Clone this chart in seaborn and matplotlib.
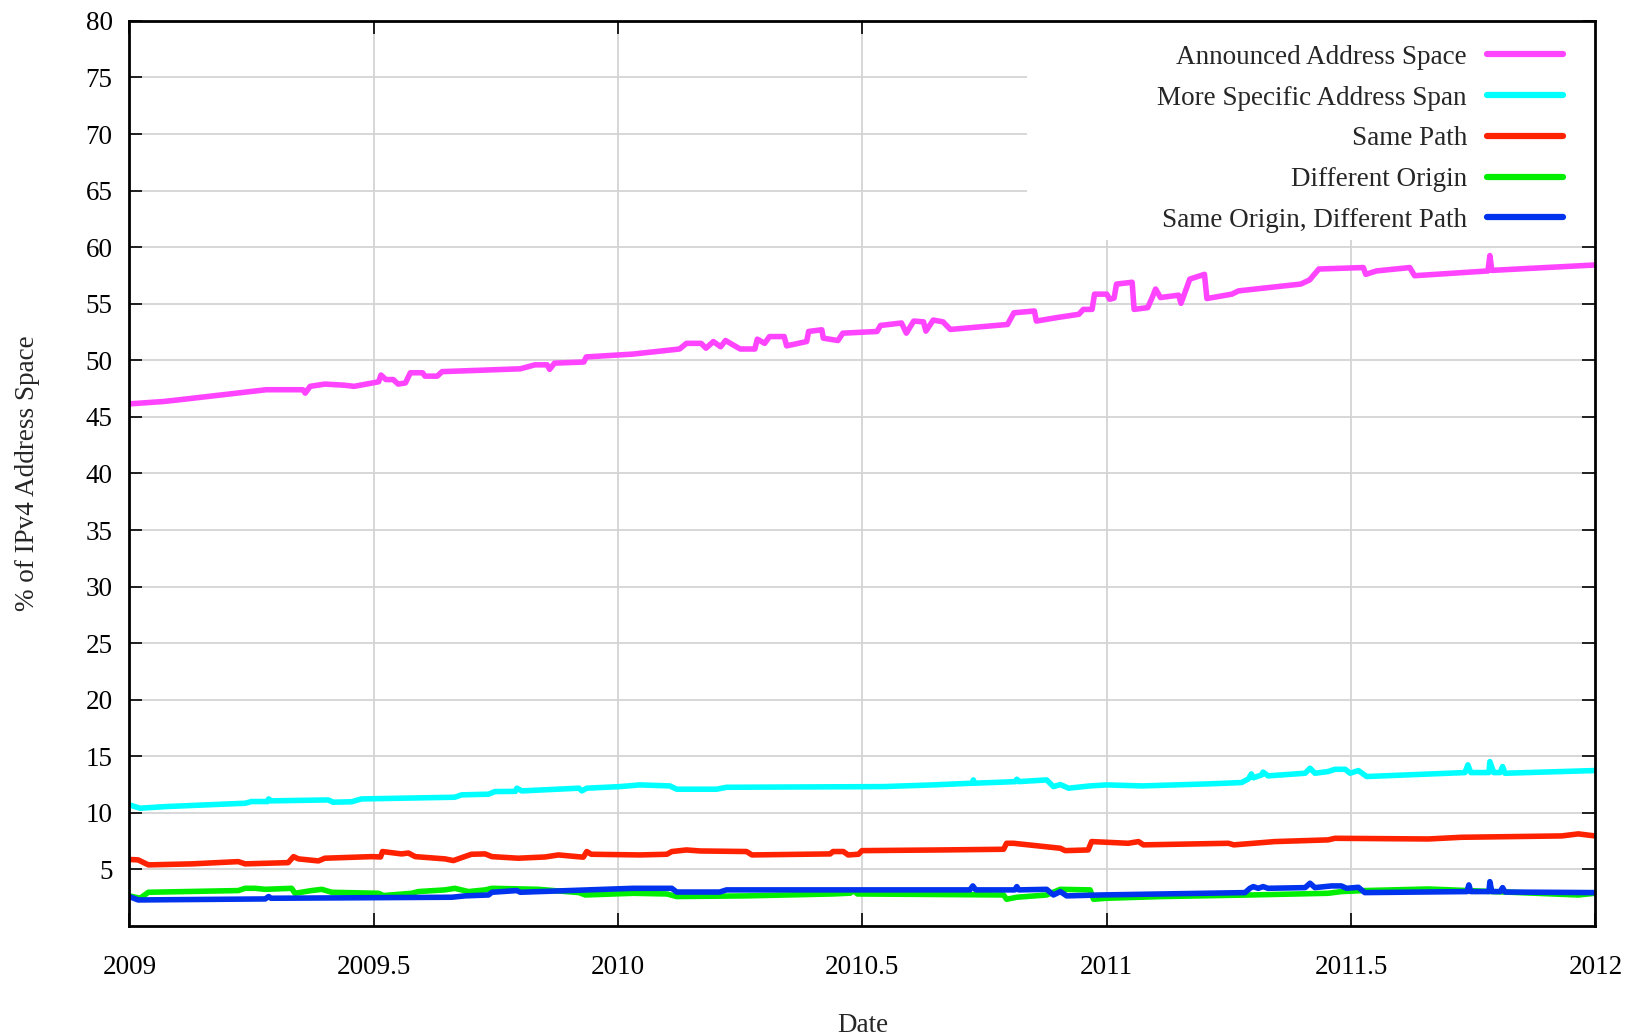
import numpy as np
import pandas as pd
import matplotlib
matplotlib.use("Agg")
import matplotlib.pyplot as plt
from matplotlib.patches import Rectangle
import seaborn as sns

# ----------------------------------
# Data (year, % of IPv4 space)
# ----------------------------------
announced_x = [
    2009.000, 2009.07, 2009.10, 2009.28, 2009.355, 2009.36, 2009.37, 2009.40, 2009.44, 2009.46,
    2009.51, 2009.515, 2009.525, 2009.54, 2009.55, 2009.565, 2009.575, 2009.60, 2009.605, 2009.63,
    2009.64, 2009.80, 2009.83, 2009.855, 2009.86, 2009.87, 2009.93, 2009.935, 2010.03, 2010.126,
    2010.14, 2010.17, 2010.18, 2010.195, 2010.21, 2010.22, 2010.235, 2010.25, 2010.28, 2010.285,
    2010.30, 2010.31, 2010.34, 2010.345, 2010.386, 2010.39, 2010.417, 2010.42, 2010.45, 2010.46,
    2010.53, 2010.537, 2010.58, 2010.59, 2010.605, 2010.625, 2010.63, 2010.645, 2010.665, 2010.68,
    2010.797, 2010.81, 2010.852, 2010.856, 2010.897, 2010.943, 2010.952, 2010.97, 2010.975, 2011.0,
    2011.006, 2011.015, 2011.02, 2011.052, 2011.056, 2011.084, 2011.093, 2011.10, 2011.11, 2011.147,
    2011.152, 2011.17, 2011.20, 2011.205, 2011.256, 2011.27, 2011.397, 2011.415, 2011.434, 2011.525,
    2011.53, 2011.552, 2011.62, 2011.63, 2011.78, 2011.784, 2011.788, 2012.0,
]
announced_y = [
    46.15, 46.36, 46.5, 47.4, 47.4, 47.1, 47.7, 47.9, 47.8, 47.7,
    48.1, 48.7, 48.3, 48.3, 47.9, 48.0, 48.9, 48.9, 48.6, 48.6,
    49.0, 49.25, 49.6, 49.6, 49.2, 49.75, 49.85, 50.3, 50.55, 51.0,
    51.5, 51.5, 51.07, 51.66, 51.2, 51.75, 51.37, 51.0, 51.0, 51.87,
    51.5, 52.1, 52.1, 51.28, 51.66, 52.55, 52.7, 51.96, 51.75, 52.4,
    52.55, 53.08, 53.3, 52.4, 53.47, 53.4, 52.58, 53.56, 53.4, 52.73,
    53.17, 54.2, 54.36, 53.47, 53.77, 54.07, 54.5, 54.5, 55.85, 55.85,
    55.4, 55.5, 56.74, 56.9, 54.5, 54.66, 55.55, 56.3, 55.55, 55.76,
    55.04, 57.18, 57.6, 55.46, 55.85, 56.14, 56.74, 57.1, 58.07, 58.2,
    57.6, 57.9, 58.2, 57.48, 57.9, 59.26, 57.95, 58.43,
]

specific_x = [
    2009.0, 2009.022, 2009.073, 2009.237, 2009.25, 2009.283, 2009.285, 2009.29, 2009.407, 2009.417,
    2009.455, 2009.475, 2009.666, 2009.68, 2009.735, 2009.748, 2009.79, 2009.793, 2009.803, 2009.92,
    2009.926, 2009.936, 2010.004, 2010.045, 2010.106, 2010.12, 2010.202, 2010.222, 2010.543, 2010.645,
    2010.725, 2010.727, 2010.73, 2010.814, 2010.816, 2010.82, 2010.877, 2010.891, 2010.905, 2010.922,
    2010.966, 2011.0, 2011.072, 2011.208, 2011.276, 2011.29, 2011.296, 2011.30, 2011.317, 2011.32,
    2011.33, 2011.406, 2011.416, 2011.426, 2011.453, 2011.467, 2011.488, 2011.498, 2011.515, 2011.532,
    2011.733, 2011.739, 2011.745, 2011.782, 2011.784, 2011.792, 2011.805, 2011.81, 2011.815, 2011.999,
]
specific_y = [
    10.7, 10.41, 10.55, 10.85, 11.0, 11.0, 11.23, 11.06, 11.14, 10.94,
    10.98, 11.23, 11.38, 11.59, 11.65, 11.88, 11.9, 12.18, 11.94, 12.18,
    11.94, 12.18, 12.32, 12.47, 12.38, 12.09, 12.09, 12.26, 12.32, 12.47,
    12.62, 12.91, 12.62, 12.76, 12.97, 12.76, 12.91, 12.32, 12.5, 12.18,
    12.38, 12.47, 12.38, 12.56, 12.68, 13.0, 13.44, 13.1, 13.35, 13.6,
    13.27, 13.5, 13.94, 13.5, 13.65, 13.85, 13.85, 13.5, 13.74, 13.21,
    13.56, 14.24, 13.56, 13.56, 14.53, 13.56, 13.56, 14.09, 13.5, 13.74,
]

same_path_x = [
    2009.0, 2009.018, 2009.039, 2009.128, 2009.223, 2009.237, 2009.325, 2009.336, 2009.346, 2009.387,
    2009.40, 2009.496, 2009.514, 2009.518, 2009.557, 2009.571, 2009.585, 2009.646, 2009.663, 2009.70,
    2009.728, 2009.742, 2009.796, 2009.851, 2009.878, 2009.929, 2009.936, 2009.945, 2010.045, 2010.10,
    2010.11, 2010.14, 2010.168, 2010.263, 2010.274, 2010.434, 2010.44, 2010.461, 2010.471, 2010.492,
    2010.499, 2010.659, 2010.789, 2010.795, 2010.809, 2010.905, 2010.915, 2010.962, 2010.969, 2011.044,
    2011.065, 2011.075, 2011.249, 2011.26, 2011.344, 2011.453, 2011.467, 2011.658, 2011.726, 2011.931,
    2011.965, 2011.999,
]
same_path_y = [
    5.88, 5.84, 5.4, 5.49, 5.69, 5.49, 5.6, 6.13, 5.93, 5.75,
    5.99, 6.13, 6.1, 6.58, 6.37, 6.45, 6.13, 5.93, 5.78, 6.34,
    6.37, 6.13, 5.99, 6.1, 6.28, 6.08, 6.58, 6.34, 6.28, 6.34,
    6.58, 6.72, 6.63, 6.58, 6.28, 6.37, 6.58, 6.58, 6.28, 6.34,
    6.66, 6.72, 6.78, 7.31, 7.31, 6.87, 6.66, 6.72, 7.46, 7.31,
    7.46, 7.17, 7.31, 7.17, 7.46, 7.61, 7.75, 7.69, 7.84, 7.96,
    8.14, 7.96,
]

diff_origin_x = [
    2009.0, 2009.022, 2009.039, 2009.223, 2009.237, 2009.257, 2009.278, 2009.332, 2009.339, 2009.373,
    2009.394, 2009.414, 2009.51, 2009.52, 2009.578, 2009.591, 2009.646, 2009.666, 2009.694, 2009.728,
    2009.742, 2009.837, 2009.92, 2009.933, 2010.031, 2010.10, 2010.12, 2010.263, 2010.44, 2010.475,
    2010.482, 2010.49, 2010.789, 2010.795, 2010.816, 2010.877, 2010.905, 2010.966, 2010.973, 2011.0,
    2011.112, 2011.293, 2011.453, 2011.48, 2011.528, 2011.658, 2011.965, 2011.999,
]
diff_origin_y = [
    2.66, 2.45, 2.98, 3.13, 3.33, 3.33, 3.24, 3.33, 2.89, 3.13,
    3.24, 2.98, 2.89, 2.69, 2.89, 3.04, 3.19, 3.33, 3.04, 3.19,
    3.33, 3.24, 2.95, 2.74, 2.89, 2.83, 2.6, 2.66, 2.83, 2.9,
    3.13, 2.83, 2.74, 2.36, 2.54, 2.74, 3.24, 3.19, 2.36, 2.45,
    2.6, 2.74, 2.89, 3.04, 3.13, 3.27, 2.74, 2.89,
]

same_origin_x = [
    2009.0, 2009.018, 2009.278, 2009.285, 2009.29, 2009.66, 2009.687, 2009.735, 2009.742, 2009.793,
    2009.80, 2010.031, 2010.11, 2010.12, 2010.208, 2010.222, 2010.72, 2010.726, 2010.732, 2010.812,
    2010.816, 2010.82, 2010.877, 2010.891, 2010.905, 2010.918, 2010.986, 2011.112, 2011.283, 2011.293,
    2011.30, 2011.31, 2011.32, 2011.33, 2011.406, 2011.416, 2011.426, 2011.46, 2011.48, 2011.491,
    2011.515, 2011.528, 2011.737, 2011.741, 2011.745, 2011.782, 2011.784, 2011.788, 2011.805, 2011.81,
    2011.815, 2011.999,
]
same_origin_y = [
    2.6, 2.3, 2.39, 2.6, 2.45, 2.54, 2.66, 2.74, 2.98, 3.13,
    2.98, 3.33, 3.33, 3.0, 3.0, 3.19, 3.19, 3.54, 3.19, 3.19,
    3.48, 3.19, 3.24, 2.74, 3.04, 2.66, 2.74, 2.83, 2.95, 3.33,
    3.48, 3.33, 3.48, 3.33, 3.39, 3.78, 3.39, 3.54, 3.54, 3.33,
    3.42, 2.95, 3.04, 3.63, 3.04, 3.04, 3.92, 3.04, 3.04, 3.39,
    3.0, 2.95,
]

series_names = [
    "Announced Address Space",
    "More Specific Address Span",
    "Same Path",
    "Different Origin",
    "Same Origin, Different Path",
]
series_colors = ["#ff44ff", "#00ffff", "#ff2200", "#00ee00", "#0033ee"]

x_ticks = [2009, 2009.5, 2010, 2010.5, 2011, 2011.5, 2012]
x_tick_labels = ["2009", "2009.5", "2010", "2010.5", "2011", "2011.5", "2012"]
y_ticks = list(range(5, 81, 5))

# ----------------------------------
# Build long table for seaborn
# ----------------------------------
frames = []
for name, xs, ys in zip(
    series_names,
    [announced_x, specific_x, same_path_x, diff_origin_x, same_origin_x],
    [announced_y, specific_y, same_path_y, diff_origin_y, same_origin_y],
):
    frames.append(pd.DataFrame({"Date": xs, "Pct": ys, "Series": name}))
df = pd.concat(frames, ignore_index=True)

# ----------------------------------
# Plot
# ----------------------------------
sns.set_theme(style="ticks")
plt.rcParams["font.family"] = ["Liberation Serif", "DejaVu Serif"]

fig = plt.figure(figsize=(16.35, 10.36), dpi=100)
ax = fig.add_axes([0.0791, 0.1062, 0.8967, 0.8736])

sns.lineplot(
    data=df, x="Date", y="Pct", hue="Series",
    hue_order=series_names, palette=series_colors,
    estimator=None, sort=False, linewidth=4.0, ax=ax,
)

ax.set_xlim(2009, 2012)
ax.set_ylim(0, 80)
ax.set_xticks(x_ticks)
ax.set_xticklabels(x_tick_labels)
ax.set_yticks(y_ticks)
ax.set_yticklabels([str(v) for v in y_ticks])

fs = 19.5
ax.tick_params(axis="both", direction="in", length=9.5, width=1.2,
               colors="black", labelsize=fs, top=True, right=True)
ax.tick_params(axis="x", pad=21)
ax.tick_params(axis="y", pad=12)
for sp in ax.spines.values():
    sp.set_linewidth(2.0)
    sp.set_color("black")
    sp.set_zorder(5)

# gridlines only inside the frame
for xv in x_ticks[1:-1]:
    ax.axvline(xv, color="#d4d4d4", lw=1.3, zorder=0)
for yv in y_ticks[:-1]:
    ax.axhline(yv, color="#d4d4d4", lw=1.3, zorder=0)

# white key box hiding the grid behind the legend (gnuplot style)
ax.add_patch(Rectangle((0.612, 0.758), 0.388, 0.242, transform=ax.transAxes,
                       facecolor="white", edgecolor="none", zorder=1))

ax.set_xlabel("Date", fontsize=fs)
ax.set_ylabel("% of IPv4 Address Space", fontsize=fs)
ax.xaxis.set_label_coords(0.5, -0.096)
ax.yaxis.set_label_coords(-0.061, 0.5)

handles, labels = ax.get_legend_handles_labels()
for h in handles:
    h.set_linewidth(4.5)
leg = ax.legend(
    handles, labels, loc="upper right", fontsize=fs, markerfirst=False,
    frameon=False, handlelength=2.8, handletextpad=0.75, labelspacing=0.58,
    borderaxespad=0.0, borderpad=0.6, bbox_to_anchor=(0.989, 0.9915),
)
leg.set_zorder(4)

fig.savefig("out.png", dpi=100)
